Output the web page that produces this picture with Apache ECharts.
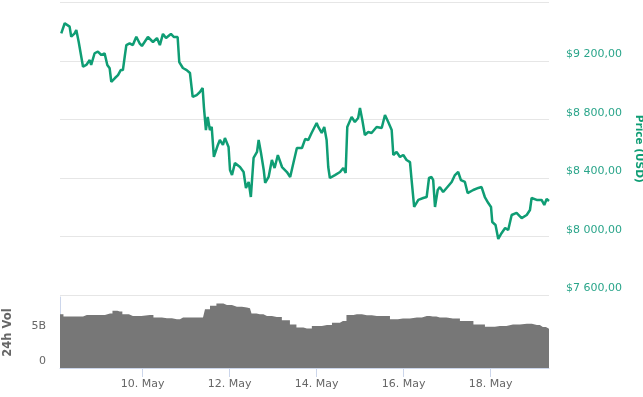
<!DOCTYPE html>
<html>
<head>
<meta charset="utf-8">
<script src="https://cdn.jsdelivr.net/npm/echarts@6/dist/echarts.min.js"></script>
<style>
  html, body { margin: 0; padding: 0; background: #fff; }
  #main { width: 643px; height: 397px; }
</style>
</head>
<body>
<div id="main"></div>
<script>
// hours counted from 8 May 00:00
var priceHours = [3.1, 5.0, 5.8, 7.7, 8.6, 10.5, 11.4, 12.7, 13.8, 15.1, 16.9, 18.8, 19.6, 21.5, 23.3, 25.2, 27.0, 28.5, 29.8, 30.7,
  32.6, 34.4, 35.9, 37.1, 38.1, 39.0, 40.8, 42.6, 44.5, 46.3, 47.6, 50.9, 52.0, 53.7, 55.9, 57.5, 59.2, 60.9, 62.0, 63.6,
  65.3, 67.3, 68.2, 70.2, 72.3, 74.1, 75.6, 77.8, 79.6, 81.1, 81.8, 82.9, 83.9, 85.1, 86.1, 87.3, 89.5, 90.6, 92.3, 93.4,
  95.4, 96.2, 97.3, 98.9, 101.7, 103.7, 105.0, 106.5, 107.7, 109.2, 111.1, 112.0, 113.3, 114.8, 115.6, 117.5, 119.3, 120.8, 122.6, 124.9,
  127.6, 129.4, 131.3, 133.1, 135.9, 137.7, 139.4, 141.2, 144.0, 144.9, 146.8, 148.2, 149.5, 150.4, 151.3, 154.1, 156.9, 158.7, 160.0, 160.9,
  163.3, 165.1, 166.9, 167.9, 169.2, 170.6, 172.5, 174.3, 177.1, 179.9, 181.7, 183.5, 185.4, 186.3, 188.1, 190.0, 191.8, 193.6, 195.5, 196.4,
  197.8, 200.1, 202.8, 204.7, 206.0, 207.4, 208.3, 209.3, 210.8, 212.0, 213.8, 215.7, 218.5, 220.3, 222.1, 223.6, 225.8, 227.3, 230.4, 233.2,
  235.0, 236.8, 238.7, 240.2, 240.9, 242.7, 244.2, 246.1, 248.0, 249.7, 251.6, 254.3, 257.1, 259.9, 261.7, 262.6, 265.4, 268.1, 269.6, 270.9, 272.2];
var priceValues = [9389, 9458, 9469, 9435, 9366, 9389, 9412, 9332, 9344, 9161, 9173, 9207, 9173, 9253, 9264, 9241, 9253, 9173, 9150, 9058,
  9082, 9104, 9138, 9138, 9229, 9309, 9321, 9309, 9366, 9321, 9303, 9364, 9364, 9330, 9357, 9309, 9385, 9357, 9364, 9385,
  9364, 9364, 9193, 9152, 9138, 9118, 8954, 8967, 8988, 9015, 8885, 8728, 8817, 8728, 8749, 8544, 8626, 8660, 8626, 8673,
  8612, 8455, 8420, 8502, 8475, 8441, 8332, 8373, 8270, 8537, 8578, 8660, 8571, 8455, 8366, 8407, 8523, 8468, 8557, 8475,
  8441, 8407, 8509, 8605, 8605, 8667, 8660, 8708, 8776, 8749, 8708, 8749, 8660, 8475, 8400, 8420, 8441, 8468, 8434, 8749,
  8817, 8783, 8810, 8879, 8797, 8694, 8714, 8708, 8749, 8742, 8831, 8783, 8728, 8557, 8578, 8544, 8557, 8523, 8509, 8386,
  8202, 8250, 8263, 8270, 8400, 8407, 8386, 8202, 8318, 8338, 8304, 8332, 8373, 8420, 8441, 8386, 8373, 8297, 8318, 8332,
  8338, 8270, 8229, 8202, 8099, 8079, 7983, 8024, 8058, 8044, 8147, 8161, 8126, 8147, 8181, 8263, 8250, 8250, 8216, 8256, 8243];

var volHours = [2.4, 6.2, 15.1, 17.2, 24.4, 30.0, 32.7, 35.4, 38.2, 42.6, 52.0, 55.9, 61.4, 66.9, 70.3, 79.6, 81.3, 83.5, 86.8, 90.6,
  94.5, 100.0, 105.5, 107.2, 108.9, 112.7, 116.6, 122.0, 127.6, 130.9, 134.8, 138.6, 144.1, 149.7, 155.2, 158.5, 162.4, 166.2, 171.7, 177.2,
  182.8, 186.1, 191.6, 199.3, 204.8, 208.1, 212.0, 219.2, 226.9, 234.1, 239.6, 245.1, 252.3, 260.0, 265.5, 268.8, 272.2];
// billions USD
var volValues = [7.57, 7.25, 7.25, 7.47, 7.47, 7.67, 8.05, 7.96, 7.57, 7.33, 7.47, 7.10, 7.00, 6.86, 7.10, 7.10, 7.10, 8.29, 8.76, 9.10,
  8.86, 8.62, 8.53, 8.43, 7.67, 7.57, 7.33, 7.19, 6.72, 6.14, 5.72, 5.57, 5.90, 6.04, 6.39, 6.62, 7.47, 7.57, 7.43, 7.33,
  7.33, 6.86, 6.96, 7.10, 7.33, 7.25, 7.10, 6.96, 6.62, 6.14, 5.82, 5.90, 6.14, 6.25, 6.04, 5.76, 5.53];

var dayTicks = [48, 96, 144, 192, 240];
var dayLabels = ['10. May', '12. May', '14. May', '16. May', '18. May'];

var green = '#0f9d74';
var labelGreen = '#2aa58a';
var gray = '#666666';
var axisBlue = '#ccd6eb';
var font = 'DejaVu Sans';

var chartDom = document.getElementById('main');
var myChart = echarts.init(chartDom);
var option;

option = {
  animation: false,
  textStyle: { fontFamily: font },
  grid: [
    { left: 60, right: 94, top: 2.5, height: 292.5, containLabel: false, outerBoundsMode: 'none' },
    { left: 60, right: 94, top: 297, bottom: 29, containLabel: false, outerBoundsMode: 'none' }
  ],
  xAxis: [
    {
      gridIndex: 0, type: 'value', min: 2.4, max: 272.2,
      axisLine: { show: false }, axisTick: { show: false }, axisLabel: { show: false }, splitLine: { show: false }
    },
    {
      gridIndex: 1, type: 'value', min: 2.4, max: 272.2,
      axisLine: { show: true, lineStyle: { color: axisBlue } },
      axisTick: { show: true, length: 9, customValues: dayTicks, lineStyle: { color: axisBlue } },
      axisLabel: {
        customValues: dayTicks, color: gray, fontSize: 11, fontFamily: font, margin: 11,
        formatter: function (v) { return dayLabels[dayTicks.indexOf(v)]; }
      },
      splitLine: { show: false }
    }
  ],
  yAxis: [
    {
      gridIndex: 0, type: 'value', position: 'right', min: 7600, max: 9600, interval: 400,
      name: 'Price (USD)', nameLocation: 'middle', nameRotate: -90, nameGap: 80,
      nameTextStyle: { color: green, fontWeight: 'bold', fontSize: 10.5, fontFamily: font },
      axisLine: { show: false }, axisTick: { show: false },
      axisLabel: {
        color: labelGreen, fontSize: 11, fontFamily: font, margin: 17, showMaxLabel: false,
        verticalAlign: 'bottom', lineHeight: 13,
        formatter: function (v) { return '$' + String(v).replace(/\B(?=(\d{3})+$)/g, ' ') + ',00'; }
      },
      splitLine: { lineStyle: { color: '#e6e6e6' } }
    },
    {
      gridIndex: 1, type: 'value', position: 'left', min: 0, max: 10e9, interval: 5e9,
      name: '24h Vol', nameLocation: 'middle', nameRotate: 90, nameGap: 46,
      nameTextStyle: { color: gray, fontWeight: 'bold', fontSize: 11.5, fontFamily: font },
      axisLine: { show: true, lineStyle: { color: axisBlue } }, axisTick: { show: false },
      axisLabel: {
        color: gray, fontSize: 11, fontFamily: font, margin: 14, showMaxLabel: false,
        verticalAlign: 'bottom', lineHeight: 13,
        formatter: function (v) { return v === 0 ? '0' : (v / 1e9) + 'B'; }
      },
      splitLine: { show: false }
    }
  ],
  series: [
    {
      type: 'line', xAxisIndex: 1, yAxisIndex: 1, step: 'middle', showSymbol: false,
      lineStyle: { width: 0 }, areaStyle: { color: '#777777', opacity: 1 },
      data: volHours.map(function (h, i) { return [h, volValues[i] * 1e9]; })
    },
    {
      type: 'line', xAxisIndex: 0, yAxisIndex: 0, showSymbol: false,
      lineStyle: { color: green, width: 2.5 },
      data: priceHours.map(function (h, i) { return [h, priceValues[i]]; })
    }
  ]
};

option && myChart.setOption(option);
</script>
</body>
</html>
